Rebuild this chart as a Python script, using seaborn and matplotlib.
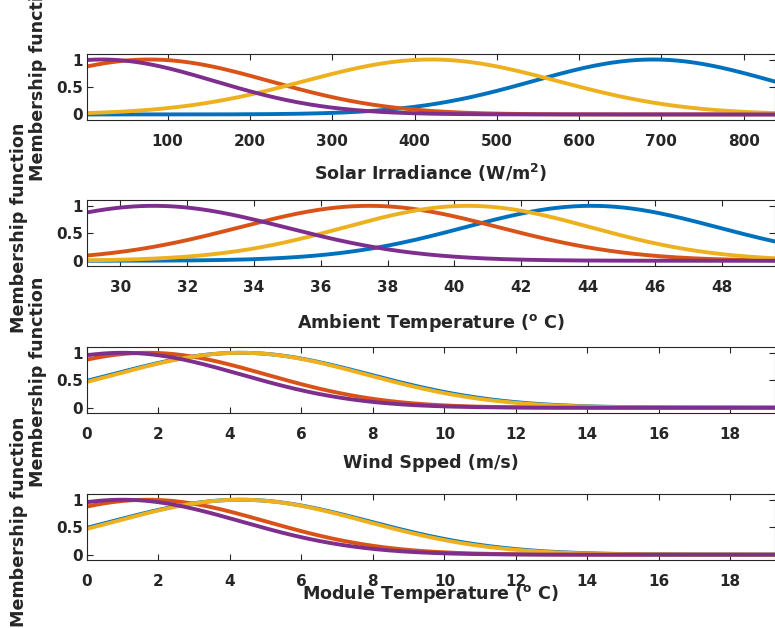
import numpy as np
import pandas as pd
import seaborn as sns
import matplotlib.pyplot as plt

# --- Gaussian membership functions ---
# order of each list: blue, orange, yellow, purple (MATLAB default colours)
MF_COLORS = ["#0072BD", "#D95319", "#EDB120", "#7E2F8E"]

IRR_CENTERS = [690, 78, 420, 20]
IRR_SIGMAS = [146, 146, 154, 137]

AMB_CENTERS = [44.1, 37.45, 40.4, 31.0]
AMB_SIGMAS = [3.8, 3.9, 3.7, 3.95]

WIND_CENTERS = [4.3, 1.7, 4.3, 1.0]
WIND_SIGMAS = [3.6, 3.3, 3.5, 3.3]

MOD_CENTERS = [4.3, 1.7, 4.3, 1.0]
MOD_SIGMAS = [3.6, 3.3, 3.5, 3.3]

X_LABELS = [
    "Solar Irradiance (W/m$^\\mathbf{2}$)",
    "Ambient Temperature ($^\\mathbf{o}$ C)",
    "Wind Spped (m/s)",
    "Module Temperature ($^\\mathbf{o}$ C)",
]
X_LIMITS = [(2, 838), (29, 49.6), (0, 19.25), (0, 19.25)]
X_TICKS = [
    list(range(100, 900, 100)),
    list(range(30, 50, 2)),
    list(range(0, 20, 2)),
    list(range(0, 20, 2)),
]
Y_TICKS = [0, 0.5, 1]
Y_TICK_LABELS = ["0", "0.5", "1"]

# axes layout (figure fractions) and label placement tweaks
AX_BOTTOMS = [0.809, 0.576, 0.342, 0.108]
AX_HEIGHT = 0.105
YLABEL_X = [-0.071, -0.099, -0.071, -0.099]
YLABEL_Y = [0.67, 0.58, 0.48, 0.585]
XLABEL_Y = [-0.80, -0.855, -0.754, -0.52]


def gaussmf(x, c, s):
    return np.exp(-((x - c) ** 2) / (2 * s ** 2))


def main():
    sns.set_theme(style="ticks")
    plt.rcParams["font.family"] = ["DejaVu Sans"]
    plt.rcParams["font.weight"] = "bold"
    plt.rcParams["mathtext.fontset"] = "dejavusans"

    fig = plt.figure(figsize=(7.75, 6.28), dpi=100)
    fig.patch.set_facecolor("white")

    params = [
        (IRR_CENTERS, IRR_SIGMAS),
        (AMB_CENTERS, AMB_SIGMAS),
        (WIND_CENTERS, WIND_SIGMAS),
        (MOD_CENTERS, MOD_SIGMAS),
    ]
    dark = "#262626"

    for i, (centers, sigmas) in enumerate(params):
        ax = fig.add_axes([87 / 775, AX_BOTTOMS[i], 1 - 87 / 775, AX_HEIGHT])
        lo, hi = X_LIMITS[i]
        x = np.linspace(lo, hi, 500)
        for c, s, col in zip(centers, sigmas, MF_COLORS):
            df = pd.DataFrame({"x": x, "mf": gaussmf(x, c, s)})
            sns.lineplot(data=df, x="x", y="mf", color=col, linewidth=2.8, ax=ax)

        ax.set_xlim(lo, hi)
        ax.set_ylim(-0.1, 1.1)
        ax.set_xticks(X_TICKS[i])
        ax.set_xticklabels([str(t) for t in X_TICKS[i]])
        ax.set_yticks(Y_TICKS)
        ax.set_yticklabels(Y_TICK_LABELS)
        ax.tick_params(axis="both", direction="in", top=True, right=True,
                       length=4.5, width=0.8, colors=dark, labelsize=11)
        ax.tick_params(axis="x", pad=10)
        ax.tick_params(axis="y", pad=3)
        for sp in ax.spines.values():
            sp.set_visible(True)
            sp.set_color(dark)
            sp.set_linewidth(0.8)

        ax.set_xlabel(X_LABELS[i], fontsize=12.6, fontweight="bold", color=dark)
        ax.xaxis.label.set_va("center")
        ax.xaxis.set_label_coords(0.5, XLABEL_Y[i])

        ax.set_ylabel("Membership function", fontsize=12.6, fontweight="bold", color=dark)
        ax.yaxis.label.set_va("center")
        ax.yaxis.set_label_coords(YLABEL_X[i], YLABEL_Y[i])

    fig.savefig("out.png", dpi=100, facecolor="white")


if __name__ == "__main__":
    main()
